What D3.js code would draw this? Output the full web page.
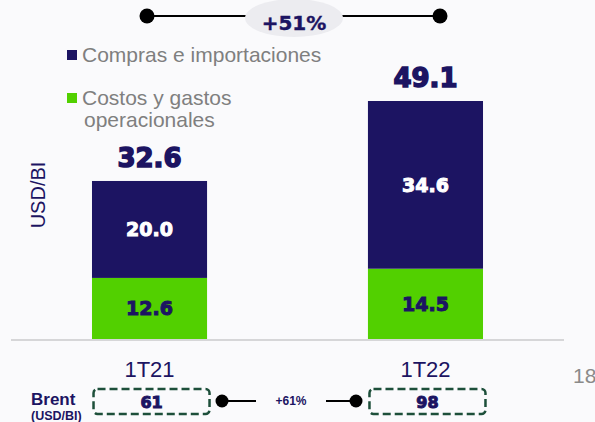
<!DOCTYPE html>
<html>
<head>
<meta charset="utf-8">
<script src="https://cdn.jsdelivr.net/npm/d3@7"></script>
<style>
  html, body { margin: 0; padding: 0; background: #fafafc; }
  svg { display: block; }
  text { font-family: "Liberation Sans", Arial, sans-serif; }
  .num { font-family: "DejaVu Sans", "Liberation Sans", sans-serif; font-weight: bold; }
</style>
</head>
<body>
<svg id="chart" width="595" height="422"></svg>
<script>
// Periods and stacked cost components (USD/Bl)
const categories = ["1T21", "1T22"];
const costosGastos = [12.6, 14.5];      // Costos y gastos operacionales
const comprasImport = [20.0, 34.6];     // Compras e importaciones
const totals = [32.6, 49.1];
const brent = [61, 98];
const legendLines = [["Compras e importaciones"], ["Costos y gastos", "operacionales"]];
const growthTotal = "+51%";
const growthBrent = "+61%";

const NAVY = "#1c1462";
const GREEN = "#52d000";

const svg = d3.select("#chart");

const x = d3.scaleBand().domain(categories).range([23, 552]).paddingInner(0.583).paddingOuter(0.25);
const y = d3.scaleLinear().domain([0, d3.max(totals)]).range([339, 101]);

const rows = categories.map((c, i) => ({ cat: c, costos: costosGastos[i], compras: comprasImport[i] }));
const stack = d3.stack().keys(["costos", "compras"]);
const layers = stack(rows);
const colors = { costos: GREEN, compras: NAVY };

// baseline
svg.append("line").attr("x1", 11).attr("x2", 564).attr("y1", 340).attr("y2", 340)
  .attr("stroke", "#d6d6d8").attr("stroke-width", 2);

// stacked bars
layers.forEach(layer => {
  svg.append("g").selectAll("rect").data(layer).join("rect")
    .attr("x", d => x(d.data.cat))
    .attr("width", x.bandwidth())
    .attr("y", d => y(d[1]))
    .attr("height", d => y(d[0]) - y(d[1]))
    .attr("fill", colors[layer.key]);
});

// labels inside segments
layers.forEach(layer => {
  svg.append("g").selectAll("text").data(layer).join("text")
    .attr("class", "num")
    .attr("x", d => x(d.data.cat) + x.bandwidth() / 2)
    .attr("y", d => (y(d[0]) + y(d[1])) / 2 + 7)
    .attr("text-anchor", "middle")
    .attr("font-size", 19)
    .attr("fill", layer.key === "compras" ? "#ffffff" : NAVY)
    .attr("stroke", layer.key === "compras" ? "#ffffff" : NAVY).attr("stroke-width", 1)
    .text(d => (d[1] - d[0]).toFixed(1));
});

// totals above bars
svg.append("g").selectAll("text").data(totals).join("text")
  .attr("class", "num")
  .attr("x", (d, i) => x(categories[i]) + x.bandwidth() / 2)
  .attr("y", d => y(d) - 14)
  .attr("text-anchor", "middle")
  .attr("font-size", 26)
  .attr("fill", NAVY).attr("stroke", NAVY).attr("stroke-width", 1.5)
  .text(d => d.toFixed(1));

// category axis labels
const xAxis = svg.append("g").attr("transform", "translate(0,358)")
  .call(d3.axisBottom(x).tickSize(0).tickPadding(0));
xAxis.select(".domain").remove();
xAxis.selectAll("text").attr("font-size", 22).attr("fill", NAVY)
  .attr("font-family", "Liberation Sans, Arial, sans-serif").attr("dy", "0.87em");

// y unit label
svg.append("text").attr("transform", "translate(45,195) rotate(-90)")
  .attr("text-anchor", "middle").attr("font-size", 20).attr("fill", NAVY).text("USD/BI");

// legend
const legend = svg.append("g");
const legendItems = [
  { color: NAVY, sq: 50, base: [62] },
  { color: GREEN, sq: 93, base: [105, 127] }
];
legendItems.forEach((item, i) => {
  legend.append("rect").attr("x", 67).attr("y", item.sq).attr("width", 10).attr("height", 10).attr("fill", item.color);
  legendLines[i].forEach((line, j) => {
    legend.append("text").attr("x", j === 0 ? 82 : 84).attr("y", item.base[j])
      .attr("font-size", 21).attr("fill", "#7f7f7f").text(line);
  });
});

// growth connector at top
const growthTop = svg.append("g");
growthTop.append("line").attr("x1", 147).attr("x2", 440).attr("y1", 16).attr("y2", 16).attr("stroke", "#000").attr("stroke-width", 2);
growthTop.append("circle").attr("cx", 147).attr("cy", 16).attr("r", 7.5).attr("fill", "#000");
growthTop.append("circle").attr("cx", 440).attr("cy", 16).attr("r", 7.5).attr("fill", "#000");
growthTop.append("ellipse").attr("cx", 294).attr("cy", 18).attr("rx", 49).attr("ry", 19).attr("fill", "#ececf0");
growthTop.append("text").attr("class", "num").attr("x", 294).attr("y", 30).attr("text-anchor", "middle")
  .attr("font-size", 20).attr("fill", NAVY).attr("stroke", NAVY).attr("stroke-width", 0.4).text(growthTotal);

// Brent row
svg.append("text").attr("x", 31).attr("y", 405).attr("font-size", 17).attr("font-weight", "bold").attr("fill", NAVY).text("Brent");
svg.append("text").attr("x", 31).attr("y", 420).attr("font-size", 12.5).attr("font-weight", "bold").attr("fill", NAVY).text("(USD/BI)");

const bw = 116;
svg.append("g").selectAll("rect").data(brent).join("rect")
  .attr("x", (d, i) => x(categories[i]) + x.bandwidth() / 2 - bw / 2 + 2)
  .attr("y", 389).attr("width", bw).attr("height", 25).attr("rx", 4)
  .attr("fill", "none").attr("stroke", "#1d4f3a").attr("stroke-width", 2.5)
  .attr("stroke-dasharray", "8,4");
svg.append("g").selectAll("text").data(brent).join("text")
  .attr("class", "num")
  .attr("x", (d, i) => x(categories[i]) + x.bandwidth() / 2 + 2)
  .attr("y", 408).attr("text-anchor", "middle")
  .attr("font-size", 16).attr("fill", NAVY)
  .attr("stroke", NAVY).attr("stroke-width", 1)
  .text(d => d);

const bc = svg.append("g");
bc.append("line").attr("x1", 222).attr("x2", 256).attr("y1", 401).attr("y2", 401).attr("stroke", "#000").attr("stroke-width", 2);
bc.append("line").attr("x1", 326).attr("x2", 356).attr("y1", 401).attr("y2", 401).attr("stroke", "#000").attr("stroke-width", 2);
bc.append("circle").attr("cx", 222).attr("cy", 401).attr("r", 6.5).attr("fill", "#000");
bc.append("circle").attr("cx", 356).attr("cy", 401).attr("r", 6.5).attr("fill", "#000");
bc.append("text").attr("x", 291).attr("y", 405).attr("text-anchor", "middle")
  .attr("font-size", 12).attr("font-weight", "bold").attr("fill", NAVY).text(growthBrent);

// page number
svg.append("text").attr("x", 573).attr("y", 383).attr("font-size", 21).attr("fill", "#8a8a8a").text("18");
</script>
</body>
</html>
